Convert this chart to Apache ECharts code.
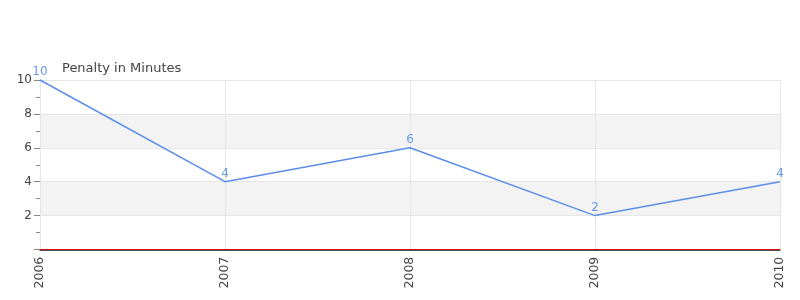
<!DOCTYPE html>
<html>
<head>
<meta charset="utf-8">
<script src="https://cdn.jsdelivr.net/npm/echarts@6/dist/echarts.min.js"></script>
<style>html,body{margin:0;padding:0;background:#fff}#c{width:800px;height:300px}</style>
</head>
<body>
<div id="c"></div>
<script>
var categories = ['2006', '2007', '2008', '2009', '2010'];
var penalty = [10, 4, 6, 2, 4];
var yTitle = 'Penalty in Minutes';

var chart = echarts.init(document.getElementById('c'), null, {renderer: 'canvas'});
chart.setOption({
  animation: false,
  textStyle: {fontFamily: 'DejaVu Sans'},
  title: {
    text: yTitle, left: 57, top: 57,
    textStyle: {fontSize: 13, fontWeight: 'normal', color: '#444', fontFamily: 'DejaVu Sans'}
  },
  grid: {left: 40, right: 20, top: 80, bottom: 50.5, containLabel: false},
  xAxis: [{
    type: 'category', data: categories, boundaryGap: false,
    z: 3,
    axisLine: {lineStyle: {color: '#d01010', width: 1}},
    axisTick: {show: false},
    axisLabel: {show: false},
    splitLine: {show: true, lineStyle: {color: '#e6e6e6', width: 1}}
  }, {
    type: 'category', data: categories, boundaryGap: false,
    position: 'bottom', offset: 1.2, z: 1,
    axisLine: {lineStyle: {color: '#555', width: 1}},
    axisTick: {show: false},
    axisLabel: {rotate: 90, color: '#444', fontSize: 12.5, margin: 6, fontFamily: 'DejaVu Sans'},
    splitLine: {show: false}
  }],
  yAxis: {
    type: 'value', min: 0, max: 10, interval: 2,
    axisLine: {show: true, lineStyle: {color: '#888'}},
    axisTick: {show: true, length: 6, lineStyle: {color: '#888'}},
    minorTick: {show: true, splitNumber: 2, length: 4, lineStyle: {color: '#888'}},
    axisLabel: {showMinLabel: false, color: '#444', fontSize: 12, margin: 8, fontFamily: 'DejaVu Sans'},
    splitLine: {show: true, lineStyle: {color: '#e6e6e6', width: 1}},
    splitArea: {show: true, areaStyle: {color: ['#ffffff', '#f3f3f3']}}
  },
  series: [{
    type: 'line', data: penalty, xAxisIndex: 0,
    symbol: 'circle', symbolSize: 0,
    lineStyle: {color: '#5b8ee8', width: 1.5},
    itemStyle: {color: '#5b8ee8'},
    label: {show: true, position: 'top', distance: 2, color: '#6b9ae8', fontSize: 12, fontFamily: 'DejaVu Sans'}
  }]
});
</script>
</body>
</html>
